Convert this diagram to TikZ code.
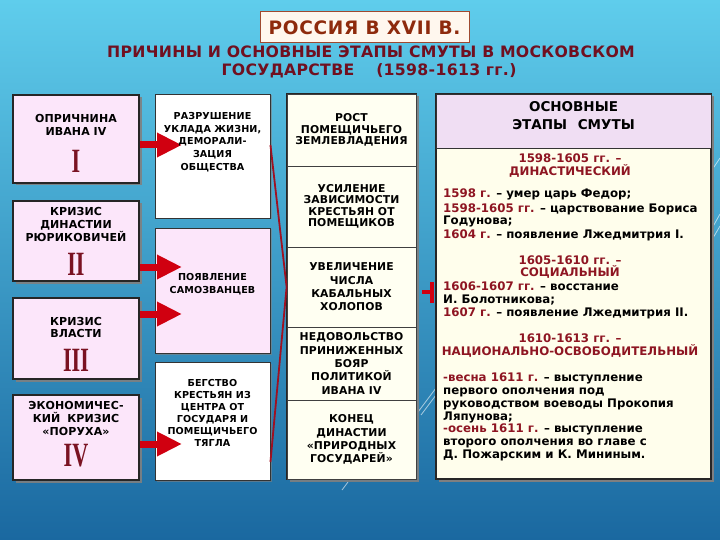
\documentclass[tikz,border=0pt]{standalone}
\usepackage{fontspec}
\usepackage{graphicx}
\setmainfont{DejaVu Sans}
\newfontfamily\romfont{Liberation Serif}
\newfontfamily\boxfontA[LetterSpace=1]{DejaVu Sans}
\newfontfamily\boxfontB[LetterSpace=1]{DejaVu Sans}
\newfontfamily\titlefont[LetterSpace=4]{DejaVu Sans}
\newfontfamily\subfont[LetterSpace=2]{DejaVu Sans}
\usetikzlibrary{shadows,arrows.meta,calc}
\definecolor{bgtop}{HTML}{5FCDEC}
\definecolor{bgmid}{HTML}{3A9ED0}
\definecolor{bgbot}{HTML}{1A68A0}
\definecolor{pinkbox}{HTML}{FCE6FA}
\definecolor{creambox}{HTML}{FFFFF2}
\definecolor{headlav}{HTML}{F0DEF3}
\definecolor{panelbody}{HTML}{FFFEEC}
\definecolor{titlebg}{HTML}{FFF7EE}
\definecolor{numred}{HTML}{7A1222}
\definecolor{titlered}{HTML}{8E2A0C}
\definecolor{subred}{HTML}{701020}
\definecolor{arrred}{HTML}{D00010}
\definecolor{linered}{HTML}{A01020}
\definecolor{datered}{HTML}{8E1522}
\newcommand\dt[1]{\textcolor{datered}{#1}}
\newcommand\romnum[1]{\scalebox{0.65}[1]{#1}}
\begin{document}
\begin{tikzpicture}[x=1pt,y=-1pt,
  pbox/.style={draw=black!85, line width=1.1pt, fill=pinkbox, inner sep=0pt,
    drop shadow={shadow xshift=2.5pt, shadow yshift=-2.5pt, opacity=0.9}},
  wbox/.style={draw=black!80, line width=0.9pt, fill=white, inner sep=0pt,
    drop shadow={shadow xshift=1.5pt, shadow yshift=-1.5pt, opacity=0.6}},
  sect/.style={draw=black!75, line width=0.8pt, fill=creambox, minimum width=129, inner sep=0pt,
    align=center, font=\boxfontB\bfseries\fontsize{10.8}{13.3}\selectfont},
  tight/.style={font=\boxfontB\bfseries\fontsize{10.8}{11.5}\selectfont},
  txtA/.style={align=center, inner sep=0pt, font=\boxfontA\bfseries\fontsize{11}{13}\selectfont},
  txtB/.style={align=center, inner sep=0pt, font=\boxfontB\bfseries\fontsize{9.6}{12.8}\selectfont},
  numst/.style={inner sep=0pt, text=numred, font=\romfont\bfseries\fontsize{34}{34}\selectfont},
  redarr/.style={draw=arrred, line width=7pt, -{Triangle[length=25pt,width=23pt]}},
  bodyL/.style={anchor=base west, inner sep=0pt, font=\bfseries\fontsize{11.8}{13}\selectfont},
  bodyH/.style={anchor=base, inner sep=0pt, text=datered, font=\bfseries\fontsize{11.8}{13}\selectfont},
  deco/.style={draw=white, opacity=0.6, line width=0.8pt}
]
\useasboundingbox (0,0) rectangle (720,540);
\shade[top color=bgtop, middle color=bgmid, bottom color=bgbot] (0,0) rectangle (720,540);
% decorative strokes
\draw[deco] (700,250) -- (720,214);
\draw[deco] (706,250) -- (720,226);
\draw[deco] (712,170) -- (720,158);
\draw[deco] (418,412) -- (436,388);
\draw[deco] (421,415) -- (436,395);
\draw[deco] (342,490) -- (348,482);

% title
\node[draw=titlered!85, line width=1pt, fill=titlebg, minimum width=209, minimum height=31, inner sep=0pt,
  text=titlered, font=\titlefont\bfseries\fontsize{18.5}{20}\selectfont] (title) at (364.5,27.5) {РОССИЯ В XVII В.};
\node[anchor=base, inner sep=0pt, text=subred, font=\subfont\bfseries\fontsize{15.7}{18}\selectfont]
  (sub1) at (371,57.5) {ПРИЧИНЫ И ОСНОВНЫЕ ЭТАПЫ СМУТЫ В МОСКОВСКОМ};
\node[anchor=base, inner sep=0pt, text=subred, font=\subfont\bfseries\fontsize{15.7}{18}\selectfont]
  (sub2) at (369,75.5) {ГОСУДАРСТВЕ\hspace{22pt}(1598-1613 гг.)};

% column 1
\node[pbox, minimum width=126, minimum height=88] (c1) at (76,139) {};
\node[pbox, minimum width=126, minimum height=80] (c2) at (76,241) {};
\node[pbox, minimum width=126, minimum height=81] (c3) at (76,338.5) {};
\node[pbox, minimum width=126, minimum height=85] (c4) at (76,437.5) {};

% column 2
\node[wbox, minimum width=115, minimum height=124] (a1) at (212.5,156) {};
\node[wbox, fill=pinkbox, minimum width=115, minimum height=125] (a2) at (212.5,290.5) {};
\node[wbox, minimum width=115, minimum height=118] (a3) at (212.5,421) {};

% column 3
\node[pbox, fill=creambox, minimum width=129, minimum height=385] (col3) at (351.5,286.5) {};
\node[sect, tight, minimum height=72] (s1) at (351.5,130) {РОСТ\\ПОМЕЩИЧЬЕГО\\ЗЕМЛЕВЛАДЕНИЯ};
\node[sect, tight, minimum height=81] (s2) at (351.5,206.5) {УСИЛЕНИЕ\\ЗАВИСИМОСТИ\\КРЕСТЬЯН ОТ\\ПОМЕЩИКОВ};
\node[sect, minimum height=80] (s3) at (351.5,287) {УВЕЛИЧЕНИЕ\\ЧИСЛА\\КАБАЛЬНЫХ\\ХОЛОПОВ};
\node[sect, minimum height=73] (s4) at (351.5,363.5) {НЕДОВОЛЬСТВО\\ПРИНИЖЕННЫХ\\БОЯР\\ПОЛИТИКОЙ\\ИВАНА IV};
\node[sect, minimum height=79] (s5) at (351.5,439.5) {КОНЕЦ\\ДИНАСТИИ\\«ПРИРОДНЫХ\\ГОСУДАРЕЙ»};

% right panel
\node[pbox, fill=panelbody, minimum width=275, minimum height=385, drop shadow={shadow xshift=3pt, shadow yshift=-3pt, opacity=0.9}] (rp) at (573.5,286.5) {};
\node[draw=black!80, line width=0.8pt, fill=headlav, minimum width=275, minimum height=54, inner sep=0pt] (rh) at (573.5,121) {};
\node[align=center, inner sep=0pt, font=\bfseries\fontsize{13.5}{18}\selectfont] (rht) at (573.5,116) {ОСНОВНЫЕ\\ЭТАПЫ\hspace{6pt} СМУТЫ};

% arrows
\coordinate (t1) at (182,145);
\coordinate (t2) at (182,267);
\coordinate (t3) at (182,314);
\coordinate (t4) at (182,444);
\draw[redarr] (c1.east |- t1) -- (t1);
\draw[redarr] (c2.east |- t2) -- (t2);
\draw[redarr] (c3.east |- t3) -- (t3);
\draw[redarr] (c4.east |- t4) -- (t4);

% red bracket
\draw[linered, line width=1.8pt] (a1.east |- t1) -- (s3.west |- 0,287) -- (a3.east |- 0,462);
% small mark
\coordinate (mk) at (432,292);
\draw[arrred, line width=3.5pt] (mk) ++(-10,0) -- (mk);
\draw[arrred, line width=3.5pt] (mk) ++(0,-10) -- ++(0,21);

% column 1 text
\node[txtA] (c1t) at (76,124.5) {ОПРИЧНИНА\\ИВАНА IV};
\node[numst] (n1) at (76,161) {\romnum{I}};
\node[txtA] (c2t) at (76,224) {КРИЗИС\\ДИНАСТИИ\\РЮРИКОВИЧЕЙ};
\node[numst] (n2) at (76,264) {\romnum{II}};
\node[txtA, font=\boxfontA\bfseries\fontsize{11}{11.5}\selectfont] (c3t) at (76,327.5) {КРИЗИС\\ВЛАСТИ};
\node[numst] (n3) at (76,360) {\romnum{III}};
\node[txtA] (c4t) at (76,418) {ЭКОНОМИЧЕС-\\КИЙ\hspace{3pt} КРИЗИС\\«ПОРУХА»};
\node[numst] (n4) at (76,456) {\romnum{IV}};

% column 2 text
\node[txtB] (a1t) at (212.5,142) {РАЗРУШЕНИЕ\\УКЛАДА ЖИЗНИ,\\ДЕМОРАЛИ-\\ЗАЦИЯ\\ОБЩЕСТВА};
\node[txtB] (a2t) at (212.5,284) {ПОЯВЛЕНИЕ\\САМОЗВАНЦЕВ};
\node[txtB, font=\boxfontB\bfseries\fontsize{9.6}{12}\selectfont] (a3t) at (212.5,413) {БЕГСТВО\\КРЕСТЬЯН ИЗ\\ЦЕНТРА ОТ\\ГОСУДАРЯ И\\ПОМЕЩИЧЬЕГО\\ТЯГЛА};

% right panel body
\foreach \i/\y/\t in {1/162.5/{1598-1605 гг. –}, 2/175.5/{ДИНАСТИЧЕСКИЙ},
  3/264.5/{1605-1610 гг. –}, 4/276.5/{СОЦИАЛЬНЫЙ},
  5/342.5/{1610-1613 гг. –}, 6/355.5/{НАЦИОНАЛЬНО-ОСВОБОДИТЕЛЬНЫЙ}}
  \node[bodyH] (h\i) at (570,\y) {\t};
\foreach \i/\y/\t in {
  1/197.5/{\dt{1598 г.} – умер царь Федор;},
  2/212/{\dt{1598-1605 гг.} – царствование Бориса},
  3/224.5/{Годунова;},
  4/238.5/{\dt{1604 г.} – появление Лжедмитрия I.},
  5/290.5/{\dt{1606-1607 гг.} – восстание},
  6/303.5/{И. Болотникова;},
  7/316.5/{\dt{1607 г.} – появление Лжедмитрия II.},
  8/381.5/{\dt{-весна 1611 г.} – выступление},
  9/394.5/{первого ополчения под},
  10/407.5/{руководством воеводы Прокопия},
  11/420.5/{Ляпунова;},
  12/432.5/{\dt{-осень 1611 г.} – выступление},
  13/445.5/{второго ополчения во главе с},
  14/458.5/{Д. Пожарским и К. Мининым.}}
  \node[bodyL] (b\i) at (443,\y) {\t};
\end{tikzpicture}
\end{document}
